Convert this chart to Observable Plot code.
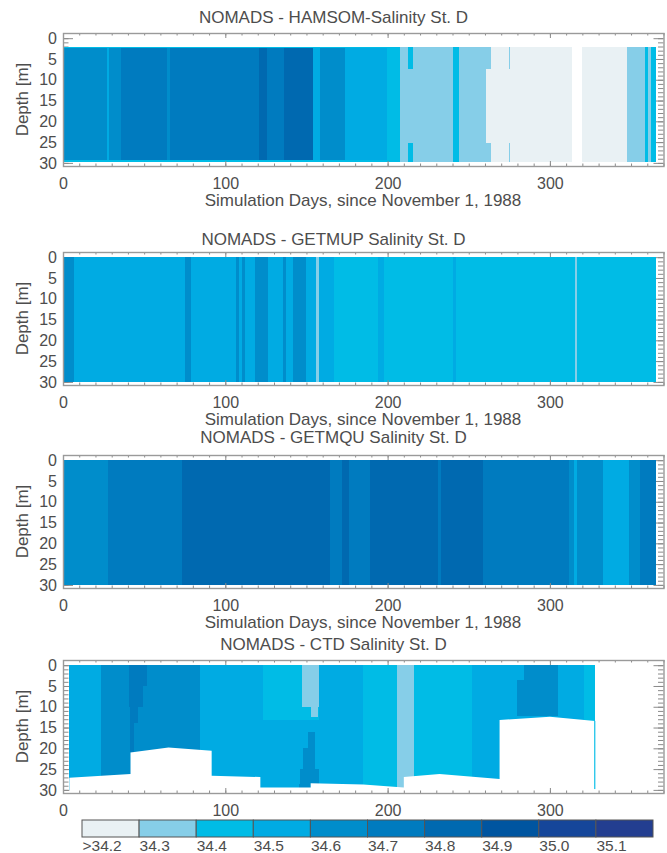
<!DOCTYPE html>
<html><head><meta charset="utf-8">
<script src="https://cdn.jsdelivr.net/npm/d3@7"></script>
<script src="https://cdn.jsdelivr.net/npm/@observablehq/plot@0.6"></script>
<style>
body{margin:0;background:#fff;}
#page{position:relative;width:667px;height:853px;overflow:hidden;font-family:"Liberation Sans",Arial,sans-serif;color:#4d4d4d;}
.t{position:absolute;white-space:nowrap;font-size:17px;line-height:17px;height:17px;}
.c{left:0;width:667px;text-align:center;}
.xt{left:63px;width:600px;text-align:center;}
.yt{width:120px;text-align:center;transform:rotate(-90deg);}
#page svg{position:absolute;left:0;}
</style></head><body><div id="page"></div>
<script>
// ---------- colour classes ----------
const thresholds = [34.3, 34.4, 34.5, 34.6, 34.7, 34.8, 34.9, 35.0, 35.1];
const palette = ["#e9f1f4","#86cee8","#00bce6","#00abe3","#008dcb","#007bbf","#0069b0","#0055a0","#15469a","#233e90"];
const legendLow = [34.2, 34.3, 34.4, 34.5, 34.6, 34.7, 34.8, 34.9, 35.0, 35.1];
const legendLabels = [">34.2","34.3","34.4","34.5","34.6","34.7","34.8","34.9","35.0","35.1"];
const xTickValues = [0, 100, 200, 300];
const yTickValues = [0, 5, 10, 15, 20, 25, 30];

// ---------- NOMADS - HAMSOM (day boundaries, salinity per interval) ----------
const hamsomDepth = [2, 29.7];
const hamsomDays = [0.5, 27, 28.3, 35.7, 64, 66, 121, 125.5, 136, 154.2, 158.3, 173.7, 199.4, 207.6, 240.5, 244, 260.5, 264, 313.9, 319.8, 347.6, 358.5, 360.5, 362.2, 365.3];
const hamsomSal  = [34.65, 34.55, 34.65, 34.75, 34.65, 34.75, 34.85, 34.75, 34.85, 34.55, 34.65, 34.55, 34.45, 34.35, 34.45, 34.35, 34.25, 34.25, null, 34.25, 34.35, 34.45, 34.35, 34.45];
// partial-depth patches: [day start, day end, depth top, depth bottom, salinity]
const hamsomPatches = [
  [0.5, 207.6, 2, 2.3, 34.45], [0.5, 207.6, 29.4, 29.7, 34.45],
  [212.4, 215.6, 2, 7.5, 34.45], [212.4, 215.6, 25.3, 29.7, 34.45],
  [260.5, 264, 2, 7.5, 34.35], [260.5, 264, 25.3, 29.7, 34.35],
  [274.5, 275.5, 2, 7.5, 34.35], [274.5, 275.5, 25.3, 29.7, 34.35]
];

// ---------- NOMADS - GETMUP ----------
const getmupDepth = [0, 30];
const getmupDays = [0.5, 7, 75.2, 78.6, 106.6, 108.5, 110, 112, 118.4, 126.3, 135.5, 137.3, 142, 149.9, 156, 157.5, 167, 194, 198, 240, 242, 315.5, 317, 365.3];
const getmupSal  = [34.65, 34.55, 34.65, 34.55, 34.65, 34.55, 34.65, 34.55, 34.65, 34.55, 34.65, 34.55, 34.65, 34.55, 34.35, 34.55, 34.45, 34.55, 34.45, 34.55, 34.45, 34.35, 34.45];

// ---------- NOMADS - GETMQU ----------
const getmquDepth = [0, 30];
const getmquDays = [0.5, 28, 73.4, 164.3, 172, 176, 189, 231, 233, 258.6, 312, 315, 316.5, 332.7, 348.5, 355.5, 365.3];
const getmquSal  = [34.65, 34.75, 34.85, 34.75, 34.85, 34.75, 34.85, 34.75, 34.85, 34.75, 34.65, 34.55, 34.65, 34.55, 34.65, 34.75];

// ---------- NOMADS - CTD (casts interpolated into patches) ----------
const ctdPatches = [
  [3.9, 23.5, 0, 30, 34.55],
  [23.5, 84.4, 0, 30, 34.65],
  [40.5, 51.5, 0, 5, 34.75], [40.8, 49, 5, 10, 34.75], [41, 46, 10, 14, 34.75], [41.3, 44, 14, 21, 34.75],
  [84.4, 123.4, 0, 30, 34.55],
  [123.4, 157.5, 0, 13.3, 34.45],
  [123.4, 157.5, 13.3, 30, 34.55],
  [147.5, 157.5, 0, 10, 34.35], [153, 157, 10, 12.5, 34.35],
  [151, 155.5, 16, 20, 34.65], [148, 155.5, 20, 25, 34.65], [146, 160, 25, 28.5, 34.65], [145.5, 152.5, 28.5, 30, 34.65],
  [157.5, 185, 0, 30, 34.55],
  [185, 206, 0, 30, 34.45],
  [206, 216, 0, 30, 34.35],
  [216, 252, 0, 30, 34.45],
  [252, 284, 0, 30, 34.55],
  [280, 284, 3.5, 12.2, 34.65],
  [284, 305.2, 0, 12.2, 34.65],
  [284, 305.2, 12.2, 30, 34.55],
  [305.2, 321, 0, 30, 34.55],
  [321, 327.8, 0, 30, 34.45]
];
// deepest sampled depth along the section (below: no data)
const ctdBottomDay   = [3.9, 41.6, 41.6, 65, 91.6, 91.6, 121.6, 121.6, 152.6, 152.6, 185, 210, 210, 232, 269, 269, 300, 327.8];
const ctdBottomDepth = [27.1, 26.2, 21.0, 19.8, 20.6, 26.6, 26.9, 29.4, 29.4, 28.4, 28.7, 29.4, 26.9, 26.2, 27.4, 13.2, 12.4, 13.4];
const ctdEdges = [[327.3, 328.0, 13.4, 29.8, 34.45]];

// ---------- helpers ----------
const page = document.getElementById("page");
const W = 667, ML = 63, MR = 3.5, MT = 5, FH = 133;
const innerW = W - ML - MR;
const xMinor = d3.range(0, 371, 10), xMajor = d3.range(0, 371, 100);
const yMinor = d3.range(0, 31, 1), yMajor = d3.range(0, 31, 5);
const tickColor = "#8a8a8a";
const fontStyle = {fontFamily: "'Liberation Sans', Arial, sans-serif", fontSize: "16px", color: "#4d4d4d", background: "transparent", overflow: "visible"};

function stripeCells(days, sal, depth) {
  const out = [];
  for (let i = 0; i < sal.length; i++) {
    if (sal[i] == null) continue;
    out.push({x1: days[i], x2: days[i + 1], y1: depth[0], y2: depth[1], s: sal[i]});
  }
  return out;
}
function patchCells(p) { return p.map(([x1, x2, y1, y2, s]) => ({x1, x2, y1, y2, s})); }

function panel(cells, top, {mask = null, edges = []} = {}) {
  const MB = 28;
  const svg = Plot.plot({
    width: W, height: MT + FH + MB,
    marginLeft: ML, marginRight: MR, marginTop: MT, marginBottom: MB,
    style: fontStyle,
    x: {domain: [0, 370]},
    y: {domain: [30.75, -1.25]},
    color: {type: "threshold", domain: thresholds, range: palette},
    marks: [
      Plot.tickY(yMinor, {y: d => d, stroke: tickColor, insetRight: innerW - 5.5}),
      Plot.tickY(yMajor, {y: d => d, stroke: tickColor, insetRight: innerW - 10}),
      Plot.tickY(yMinor, {y: d => d, stroke: tickColor, insetLeft: innerW - 5.5}),
      Plot.tickY(yMajor, {y: d => d, stroke: tickColor, insetLeft: innerW - 10}),
      Plot.rect(cells, {x1: "x1", x2: "x2", y1: "y1", y2: "y2", fill: "s", shapeRendering: "crispEdges"}),
      mask ? Plot.areaY(mask, {x: "day", y1: "depth", y2: () => 30.75, fill: "white"}) : null,
      edges.length ? Plot.rect(patchCells(edges), {x1: "x1", x2: "x2", y1: "y1", y2: "y2", fill: "s"}) : null,
      Plot.tickX(xMinor, {x: d => d, stroke: tickColor, insetTop: FH - 2.5}),
      Plot.tickX(xMajor, {x: d => d, stroke: tickColor, insetTop: FH - 5}),
      Plot.tickX(xMinor, {x: d => d, stroke: tickColor, insetBottom: FH - 2.5}),
      Plot.tickX(xMajor, {x: d => d, stroke: tickColor, insetBottom: FH - 5}),
      Plot.frame({stroke: "#9a9a9a", strokeWidth: 1.4}),
      Plot.axisX({anchor: "bottom", ticks: xTickValues, tickSize: 0, tickPadding: 11.5, label: null, fontSize: 16}),
      Plot.axisY({anchor: "left", ticks: yTickValues, tickSize: 0, tickPadding: 6.5, label: null, fontSize: 16})
    ]
  });
  svg.style.top = (top - MT) + "px";
  page.appendChild(svg);
}

function addText(cls, txt, style) {
  const d = document.createElement("div");
  d.className = "t " + cls;
  d.textContent = txt;
  Object.assign(d.style, style);
  page.appendChild(d);
}

const panels = [
  {title: "NOMADS - HAMSOM-Salinity St. D", top: 33, titleY: 17, cells: stripeCells(hamsomDays, hamsomSal, hamsomDepth).concat(patchCells(hamsomPatches)), xtitle: true},
  {title: "NOMADS - GETMUP Salinity St. D", top: 252, titleY: 239, cells: stripeCells(getmupDays, getmupSal, getmupDepth), xtitle: true},
  {title: "NOMADS - GETMQU Salinity St. D", top: 455, titleY: 437, cells: stripeCells(getmquDays, getmquSal, getmquDepth), xtitle: true},
  {title: "NOMADS - CTD Salinity St. D", top: 660, titleY: 644, cells: patchCells(ctdPatches), xtitle: false,
   mask: ctdBottomDay.map((day, i) => ({day, depth: ctdBottomDepth[i]})), edges: ctdEdges}
];

for (const p of panels) {
  panel(p.cells, p.top, {mask: p.mask || null, edges: p.edges || []});
  addText("c", p.title, {top: (p.titleY - 8.5) + "px"});
  addText("yt", "Depth [m]", {left: (22 - 60) + "px", top: (p.top + FH / 2 - 8.5) + "px"});
  if (p.xtitle) addText("xt", "Simulation Days, since November 1, 1988", {top: (p.top + FH + 34 - 8) + "px"});
}

// ---------- colour bar ----------
const bar = Plot.plot({
  width: W, height: 38, marginLeft: 82, marginRight: 14, marginTop: 5, marginBottom: 16,
  style: fontStyle,
  x: {domain: [34.2, 35.2], axis: null},
  color: {type: "threshold", domain: thresholds, range: palette},
  marks: [
    Plot.rect(legendLow, {x1: d => d, x2: d => d + 0.1, fill: d => d + 0.05, stroke: "#555", strokeWidth: 1}),
    Plot.text(legendLow, {x: d => d, text: (d, i) => legendLabels[i], frameAnchor: "bottom", textAnchor: "start", lineAnchor: "middle", dy: 8.5, fontSize: 15.5})
  ]
});
bar.style.top = "815px";
page.appendChild(bar);
</script></body></html>
